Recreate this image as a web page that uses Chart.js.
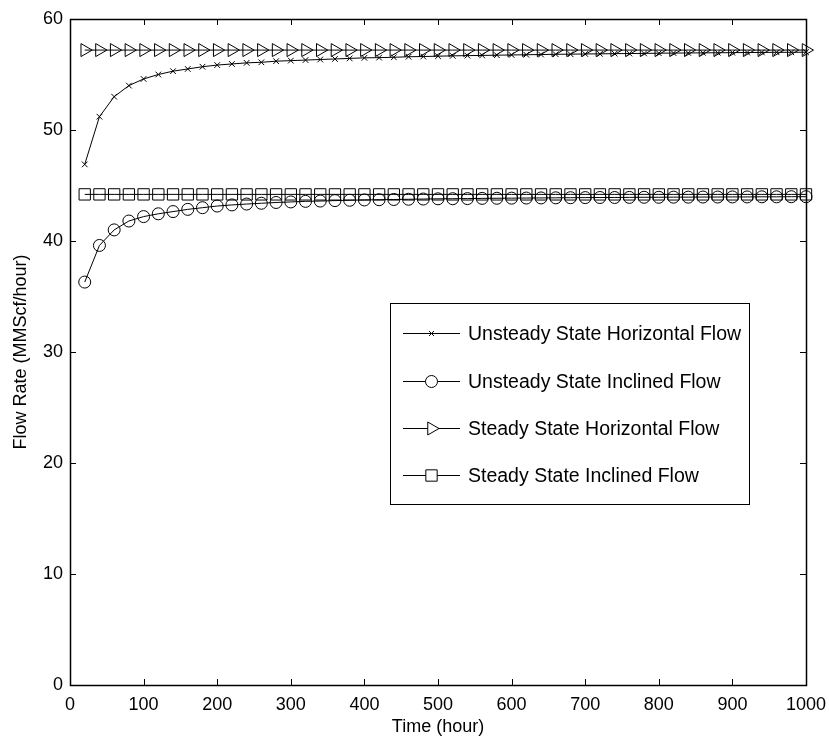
<!DOCTYPE html>
<html>
<head>
<meta charset="utf-8">
<script src="https://cdn.jsdelivr.net/npm/chart.js@4/dist/chart.umd.min.js"></script>
<style>
  html, body { margin: 0; padding: 0; background: #fff; }
  #wrap { width: 829px; height: 736px; }
</style>
</head>
<body>
<div id="wrap"><canvas id="flow-chart" width="829" height="736"></canvas></div>
<script>
const times = [20, 40, 60, 80, 100, 120, 140, 160, 180, 200,
    220, 240, 260, 280, 300, 320, 340, 360, 380, 400,
    420, 440, 460, 480, 500, 520, 540, 560, 580, 600,
    620, 640, 660, 680, 700, 720, 740, 760, 780, 800,
    820, 840, 860, 880, 900, 920, 940, 960, 980, 1000];

const unsteadyHorizontal = [46.9, 51.2, 53.0, 54.0, 54.6, 55.0, 55.3, 55.5, 55.7, 55.85,
    55.95, 56.05, 56.1, 56.2, 56.25, 56.3, 56.35, 56.4, 56.45, 56.5,
    56.52, 56.55, 56.6, 56.62, 56.65, 56.68, 56.7, 56.72, 56.74, 56.76,
    56.78, 56.8, 56.82, 56.83, 56.85, 56.86, 56.88, 56.89, 56.9, 56.92,
    56.93, 56.94, 56.95, 56.96, 56.97, 56.98, 56.99, 57.0, 57.0, 57.01];

const unsteadyInclined = [36.3, 39.6, 41.0, 41.8, 42.2, 42.45, 42.65, 42.85, 43.0, 43.15,
    43.25, 43.33, 43.4, 43.47, 43.52, 43.57, 43.6, 43.64, 43.67, 43.7,
    43.72, 43.74, 43.76, 43.78, 43.8, 43.81, 43.82, 43.84, 43.85, 43.86,
    43.87, 43.88, 43.89, 43.9, 43.91, 43.92, 43.92, 43.93, 43.94, 43.94,
    43.95, 43.95, 43.96, 43.96, 43.97, 43.97, 43.98, 43.98, 43.99, 43.99];

const steadyHorizontal = times.map(() => 57.2);
const steadyInclined = times.map(() => 44.2);

const seriesLabels = ["Unsteady State Horizontal Flow", "Unsteady State Inclined Flow",
    "Steady State Horizontal Flow", "Steady State Inclined Flow"];

const xTicks = [0, 100, 200, 300, 400, 500, 600, 700, 800, 900, 1000];
const yTicks = [0, 10, 20, 30, 40, 50, 60];

const fontFamily = "'Liberation Sans', Arial, Helvetica, sans-serif";

function toPoints(values) {
    return values.map((v, i) => ({ x: times[i], y: v }));
}

function makeSeries(label, values, style, radius, rotation) {
    return {
        label: label,
        data: toPoints(values),
        borderColor: "#000",
        backgroundColor: "rgba(0,0,0,0)",
        borderWidth: 1,
        pointStyle: style,
        pointRadius: radius,
        pointRotation: rotation || 0,
        pointBorderColor: "#000",
        pointBackgroundColor: "rgba(0,0,0,0)",
        pointBorderWidth: 1,
        tension: 0,
        clip: false
    };
}

const datasets = [
    makeSeries(seriesLabels[0], unsteadyHorizontal, "crossRot", 4),
    makeSeries(seriesLabels[1], unsteadyInclined, "circle", 6),
    makeSeries(seriesLabels[2], steadyHorizontal, "triangle", 7.5, 90),
    makeSeries(seriesLabels[3], steadyInclined, "rect", 8)
];

// box, inward ticks on all four sides, and the legend box
const matlabFrame = {
    id: "matlabFrame",
    afterDraw(chart) {
        const ctx = chart.ctx;
        const area = chart.chartArea;
        const xs = chart.scales.x;
        const ys = chart.scales.y;
        const tl = 6;
        ctx.save();
        ctx.strokeStyle = "#000";
        ctx.lineWidth = 1;
        ctx.beginPath();
        xTicks.forEach(t => {
            const px = Math.round(xs.getPixelForValue(t)) + 0.5;
            ctx.moveTo(px, area.bottom); ctx.lineTo(px, area.bottom - tl);
            ctx.moveTo(px, area.top); ctx.lineTo(px, area.top + tl);
        });
        yTicks.forEach(t => {
            const py = Math.round(ys.getPixelForValue(t)) + 0.5;
            ctx.moveTo(area.left, py); ctx.lineTo(area.left + tl, py);
            ctx.moveTo(area.right, py); ctx.lineTo(area.right - tl, py);
        });
        ctx.stroke();
        ctx.lineWidth = 1.5;
        ctx.strokeRect(Math.round(area.left) + 0.5, Math.round(area.top) + 0.5,
            Math.round(area.right - area.left), Math.round(area.bottom - area.top));

        // legend
        const lx = 390, ly = 303, lw = 359, lh = 201;
        ctx.fillStyle = "#fff";
        ctx.fillRect(lx, ly, lw, lh);
        ctx.lineWidth = 1;
        ctx.strokeRect(lx + 0.5, ly + 0.5, lw, lh);
        const rowsY = [333, 381, 428, 475];
        ctx.font = "19.5px " + fontFamily;
        ctx.textBaseline = "middle";
        ctx.textAlign = "left";
        chart.data.datasets.forEach((ds, i) => {
            const y = rowsY[i] + 0.5;
            ctx.strokeStyle = "#000";
            ctx.lineWidth = 1;
            ctx.beginPath();
            ctx.moveTo(403, y); ctx.lineTo(460, y);
            ctx.stroke();
            const r = ds.pointStyle === "crossRot" ? 3.5 : ds.pointRadius;
            ctx.fillStyle = "#fff";
            Chart.helpers.drawPoint(ctx, {
                pointStyle: ds.pointStyle,
                rotation: ds.pointRotation,
                radius: r,
                borderWidth: 1
            }, 431.5, y);
            ctx.fillStyle = "#000";
            ctx.fillText(ds.label, 468, y + 1);
        });
        ctx.restore();
    }
};

new Chart(document.getElementById("flow-chart").getContext("2d"), {
    type: "line",
    data: { datasets: datasets },
    options: {
        responsive: false,
        animation: false,
        devicePixelRatio: 1,
        layout: { padding: { left: 0, right: 23, top: 19, bottom: 0 } },
        plugins: {
            legend: { display: false },
            tooltip: { enabled: false }
        },
        scales: {
            x: {
                type: "linear",
                min: 0,
                max: 1000,
                afterFit: s => { s.height = 51; s.paddingRight = 0; s.paddingLeft = 0; },
                afterBuildTicks: s => { s.ticks = xTicks.map(v => ({ value: v })); },
                grid: { display: false, drawTicks: false },
                border: { display: false },
                ticks: { color: "#000", padding: 9, maxRotation: 0,
                    callback: v => String(v),
                    font: { family: fontFamily, size: 18 } },
                title: { display: true, text: "Time (hour)", color: "#000",
                    padding: { top: 0, bottom: -2 },
                    font: { family: fontFamily, size: 18 } }
            },
            y: {
                type: "linear",
                min: 0,
                max: 60,
                afterFit: s => { s.width = 70; },
                afterBuildTicks: s => { s.ticks = yTicks.map(v => ({ value: v })); },
                grid: { display: false, drawTicks: false },
                border: { display: false },
                ticks: { color: "#000", padding: 7,
                    callback: v => String(v),
                    font: { family: fontFamily, size: 18 } },
                title: { display: true, text: "Flow Rate (MMScf/hour)", color: "#000",
                    padding: { top: 10, bottom: 0 },
                    font: { family: fontFamily, size: 18 } }
            }
        }
    },
    plugins: [matlabFrame]
});
</script>
</body>
</html>
